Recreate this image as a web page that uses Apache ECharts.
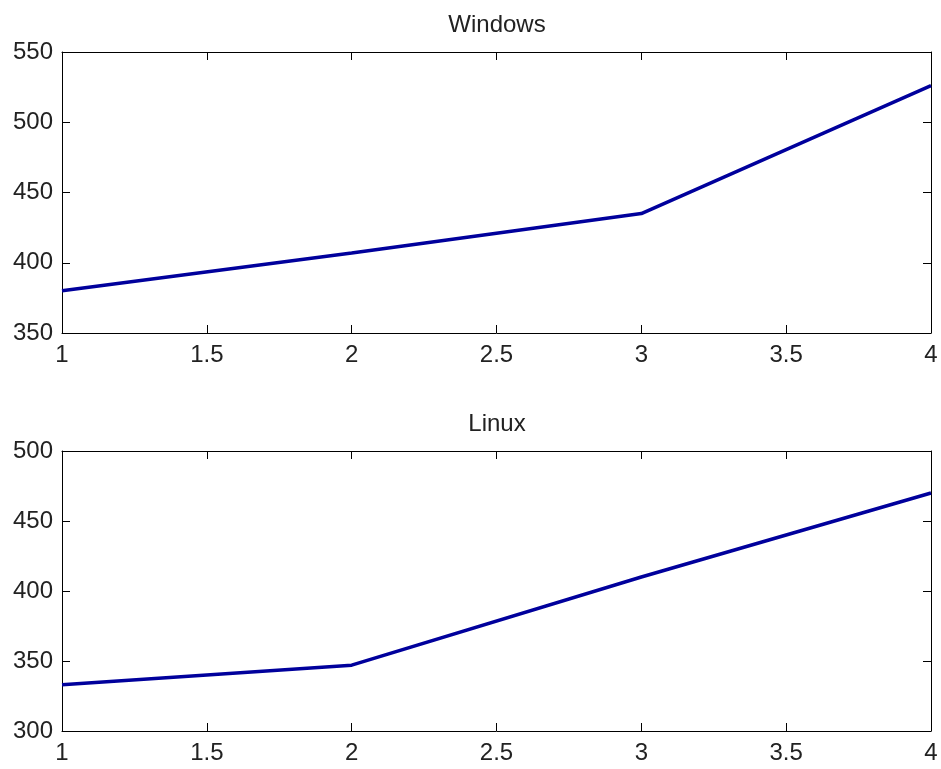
<!DOCTYPE html>
<html>
<head>
<meta charset="utf-8">
<title>Windows / Linux</title>
<script src="https://cdn.jsdelivr.net/npm/echarts@6/dist/echarts.min.js"></script>
<style>
  html, body { margin: 0; padding: 0; background: #fff; }
  #main-chart-1 { width: 941px; height: 769px; }
</style>
</head>
<body>
<div id="main-chart-1"></div>
<script>
// Veriler
const xValues = [1, 2, 3, 4];
const windowsValues = [380, 407, 435, 526];
const linuxValues = [333, 347, 410, 470];
const titles = ['Windows', 'Linux'];

const FONT = '"Liberation Sans", Arial, sans-serif';
const lineColor = '#00009c';

// ortak eksen ayarları
function xAx(grid, pos, showLabel) {
    return {
        type: 'value', gridIndex: grid, position: pos,
        min: 1, max: 4, interval: 0.5,
        axisLine: { show: true, onZero: false, lineStyle: { color: '#000', width: 1 } },
        axisTick: { show: true, inside: true, length: 8, lineStyle: { color: '#000' } },
        axisLabel: { show: showLabel, color: '#222', fontSize: 24, fontFamily: FONT, margin: 10 },
        splitLine: { show: false }
    };
}
function yAx(grid, pos, min, max, showLabel) {
    return {
        type: 'value', gridIndex: grid, position: pos,
        min: min, max: max, interval: 50,
        axisLine: { show: true, onZero: false, lineStyle: { color: '#000', width: 1 } },
        axisTick: { show: true, inside: true, length: 8, lineStyle: { color: '#000' } },
        axisLabel: { show: showLabel, color: '#222', fontSize: 24, fontFamily: FONT, margin: 9 },
        splitLine: { show: false }
    };
}

const chart = echarts.init(document.getElementById('main-chart-1'));

chart.setOption({
    backgroundColor: '#fff',
    animation: false,
    title: [
        { text: titles[0], left: 492, top: 8, textAlign: 'center',
          textStyle: { fontSize: 24, fontWeight: 'normal', color: '#222', fontFamily: FONT } },
        { text: titles[1], left: 492, top: 407, textAlign: 'center',
          textStyle: { fontSize: 24, fontWeight: 'normal', color: '#222', fontFamily: FONT } }
    ],
    grid: [
        { left: 62, right: 10, top: 52, height: 281 },
        { left: 62, right: 10, top: 451, height: 280 }
    ],
    xAxis: [
        xAx(0, 'bottom', true), xAx(0, 'top', false),
        xAx(1, 'bottom', true), xAx(1, 'top', false)
    ],
    yAxis: [
        yAx(0, 'left', 350, 550, true), yAx(0, 'right', 350, 550, false),
        yAx(1, 'left', 300, 500, true), yAx(1, 'right', 300, 500, false)
    ],
    series: [
        {
            type: 'line', xAxisIndex: 0, yAxisIndex: 0,
            data: xValues.map((x, i) => [x, windowsValues[i]]),
            showSymbol: false, lineStyle: { color: lineColor, width: 3.5 }
        },
        {
            type: 'line', xAxisIndex: 2, yAxisIndex: 2,
            data: xValues.map((x, i) => [x, linuxValues[i]]),
            showSymbol: false, lineStyle: { color: lineColor, width: 3.5 }
        }
    ]
});

window.addEventListener('resize', () => chart.resize());
</script>
</body>
</html>
